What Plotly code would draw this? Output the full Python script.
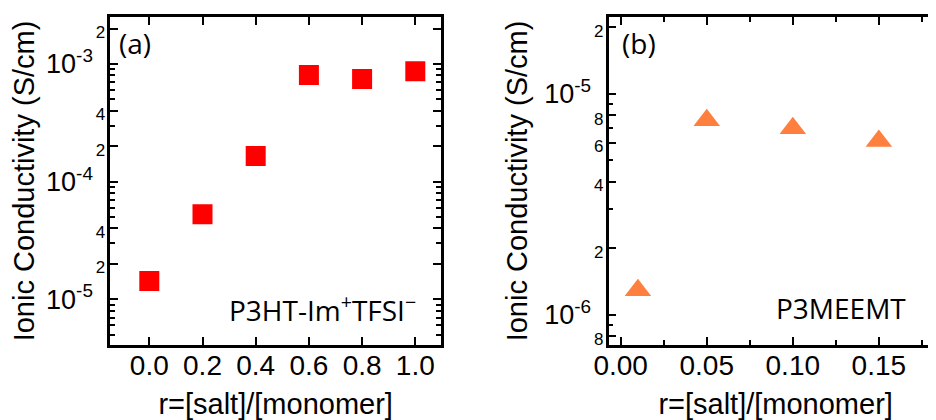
import plotly.graph_objects as go

# ---------------- data ----------------
r_a = [0.0, 0.2, 0.4, 0.6, 0.8, 1.0]
sigma_a = [1.43e-5, 5.28e-5, 1.65e-4, 8.06e-4, 7.46e-4, 8.67e-4]

r_b = [0.01, 0.05, 0.10, 0.15]
sigma_b = [1.29e-6, 7.58e-6, 6.99e-6, 6.12e-6]

xtick_vals_a = [0.0, 0.2, 0.4, 0.6, 0.8, 1.0]
xtick_text_a = ["0.0", "0.2", "0.4", "0.6", "0.8", "1.0"]
ydecade_vals_a = [1e-5, 1e-4, 1e-3]
ydecade_exp_a = ["-5", "-4", "-3"]
ysmall_vals_a = [2e-5, 4e-5, 2e-4, 4e-4, 2e-3]
ysmall_text_a = ["2", "4", "2", "4", "2"]
yminor_vals_a = [5e-6, 6e-6, 7e-6, 8e-6, 9e-6,
                 3e-5, 5e-5, 6e-5, 7e-5, 8e-5, 9e-5,
                 3e-4, 5e-4, 6e-4, 7e-4, 8e-4, 9e-4]

xtick_vals_b = [0.0, 0.05, 0.10, 0.15]
xtick_text_b = ["0.00", "0.05", "0.10", "0.15"]
xminor_vals_b = [0.025, 0.075, 0.125, 0.175]
ydecade_vals_b = [1e-6, 1e-5]
ydecade_exp_b = ["-6", "-5"]
ysmall_vals_b = [8e-7, 2e-6, 4e-6, 6e-6, 8e-6, 2e-5]
ysmall_text_b = ["8", "2", "4", "6", "8", "2"]
yminor_vals_b = [9e-7, 3e-6, 5e-6, 7e-6, 9e-6]

label_a = "(a)"
label_b = "(b)"
name_a = "P3HT-Im<sup>+</sup>TFSI<sup>\u2212</sup>"
name_b = "P3MEEMT"
x_title = "r=[salt]/[monomer]"
y_title = "Ionic Conductivity (S/cm)"

# ---------------- styling ----------------
W, H = 936, 420
OFF = 8  # page offset of the figure (body margin)
SANS = "Liberation Sans, Arial, Helvetica, sans-serif"
NOTE = "Open Sans, Noto Sans, sans-serif"
tick_font = dict(family=SANS, size=28, color="black")
ytick_font = dict(family=SANS, size=27, color="black")
title_font = dict(family=SANS, size=29, color="black")
note_font = dict(family=NOTE, size=28, color="black")


def px_x(p):
    return (p - OFF) / W


def px_y(p):
    return 1 - (p - OFF) / H


def decade_labels(exps):
    return ["10<sup>%s</sup><span style='font-size:22px'>\u00a0\u00a0</span>" % e for e in exps]


def small_labels(txts):
    return ["<span style='font-size:17px'>%s</span>" % t for t in txts]


def merged(vals1, txt1, vals2, txt2):
    pairs = sorted(zip(list(vals1) + list(vals2), list(txt1) + list(txt2)))
    return [p[0] for p in pairs], [p[1] for p in pairs]


yvals_a, ytext_a = merged(ydecade_vals_a, decade_labels(ydecade_exp_a),
                          ysmall_vals_a, small_labels(ysmall_text_a))
yvals_b, ytext_b = merged(ydecade_vals_b, decade_labels(ydecade_exp_b),
                          ysmall_vals_b, small_labels(ysmall_text_b))

dom_y = [px_y(345), px_y(17)]
dom_xa = [px_x(110.3), px_x(441)]
dom_xb = [px_x(608.5), px_x(942.75)]
range_xa = [-0.1466, 1.0966]
range_ya = [-5.3884, -2.6006]
range_xb = [-0.00709, 0.18713]
range_yb = [-6.1377, -4.6522]

fig = go.Figure()
fig.add_trace(go.Scatter(
    x=r_a, y=sigma_a, mode="markers", xaxis="x", yaxis="y",
    marker=dict(symbol="square", size=20, color="#FF0000", line=dict(width=0)),
    showlegend=False))
fig.add_trace(go.Scatter(
    x=r_b, y=sigma_b, mode="markers", xaxis="x2", yaxis="y2",
    marker=dict(symbol="triangle-up", size=23, color="#FF7F3F", line=dict(width=0)),
    showlegend=False))

common_x = dict(automargin=False, showline=True, linewidth=2.5, linecolor="black",
                mirror="ticks", ticks="inside", ticklen=8, tickwidth=2,
                tickcolor="black", showgrid=False, zeroline=False,
                tickfont=tick_font, ticklabelstandoff=-6,
                title=dict(text=x_title, font=title_font, standoff=14))
common_y = dict(type="log", automargin=False, showline=True, linewidth=2.5,
                linecolor="black", mirror="ticks", ticks="inside", ticklen=8,
                tickwidth=2, tickcolor="black", showgrid=False, zeroline=False,
                tickfont=ytick_font, ticklabelstandoff=-3,
                title=dict(text=y_title, font=title_font, standoff=9))
minor_style = dict(tickmode="array", ticks="inside", ticklen=5, tickwidth=2,
                   tickcolor="black", showgrid=False)

fig.update_layout(
    template="none",
    width=W, height=H, margin=dict(l=0, r=0, t=0, b=0),
    paper_bgcolor="white", plot_bgcolor="rgba(0,0,0,0)",
    xaxis=dict(common_x, domain=dom_xa, anchor="y", range=range_xa,
               tickmode="array", tickvals=xtick_vals_a, ticktext=xtick_text_a),
    yaxis=dict(common_y, domain=dom_y, anchor="x", range=range_ya,
               tickmode="array", tickvals=yvals_a, ticktext=ytext_a,
               minor=dict(minor_style, tickvals=yminor_vals_a)),
    xaxis2=dict(common_x, domain=dom_xb, anchor="y2", range=range_xb,
                tickmode="array", tickvals=xtick_vals_b, ticktext=xtick_text_b,
                minor=dict(minor_style, tickvals=xminor_vals_b)),
    yaxis2=dict(common_y, domain=dom_y, anchor="x2", range=range_yb,
                tickmode="array", tickvals=yvals_b, ticktext=ytext_b,
                minor=dict(minor_style, tickvals=yminor_vals_b)),
)

fig.add_annotation(text=label_a, xref="paper", yref="paper", x=px_x(117), y=px_y(42.7),
                   xanchor="left", yanchor="middle", showarrow=False, font=note_font)
fig.add_annotation(text=label_b, xref="paper", yref="paper", x=px_x(620), y=px_y(43.3),
                   xanchor="left", yanchor="middle", showarrow=False, font=note_font)
fig.add_annotation(text=name_a, xref="paper", yref="paper", x=px_x(417.5), y=px_y(308),
                   xanchor="right", yanchor="middle", showarrow=False, font=note_font)
fig.add_annotation(text=name_b, xref="paper", yref="paper", x=px_x(907.5), y=px_y(308),
                   xanchor="right", yanchor="middle", showarrow=False, font=note_font)

fig.write_html("out.html")
